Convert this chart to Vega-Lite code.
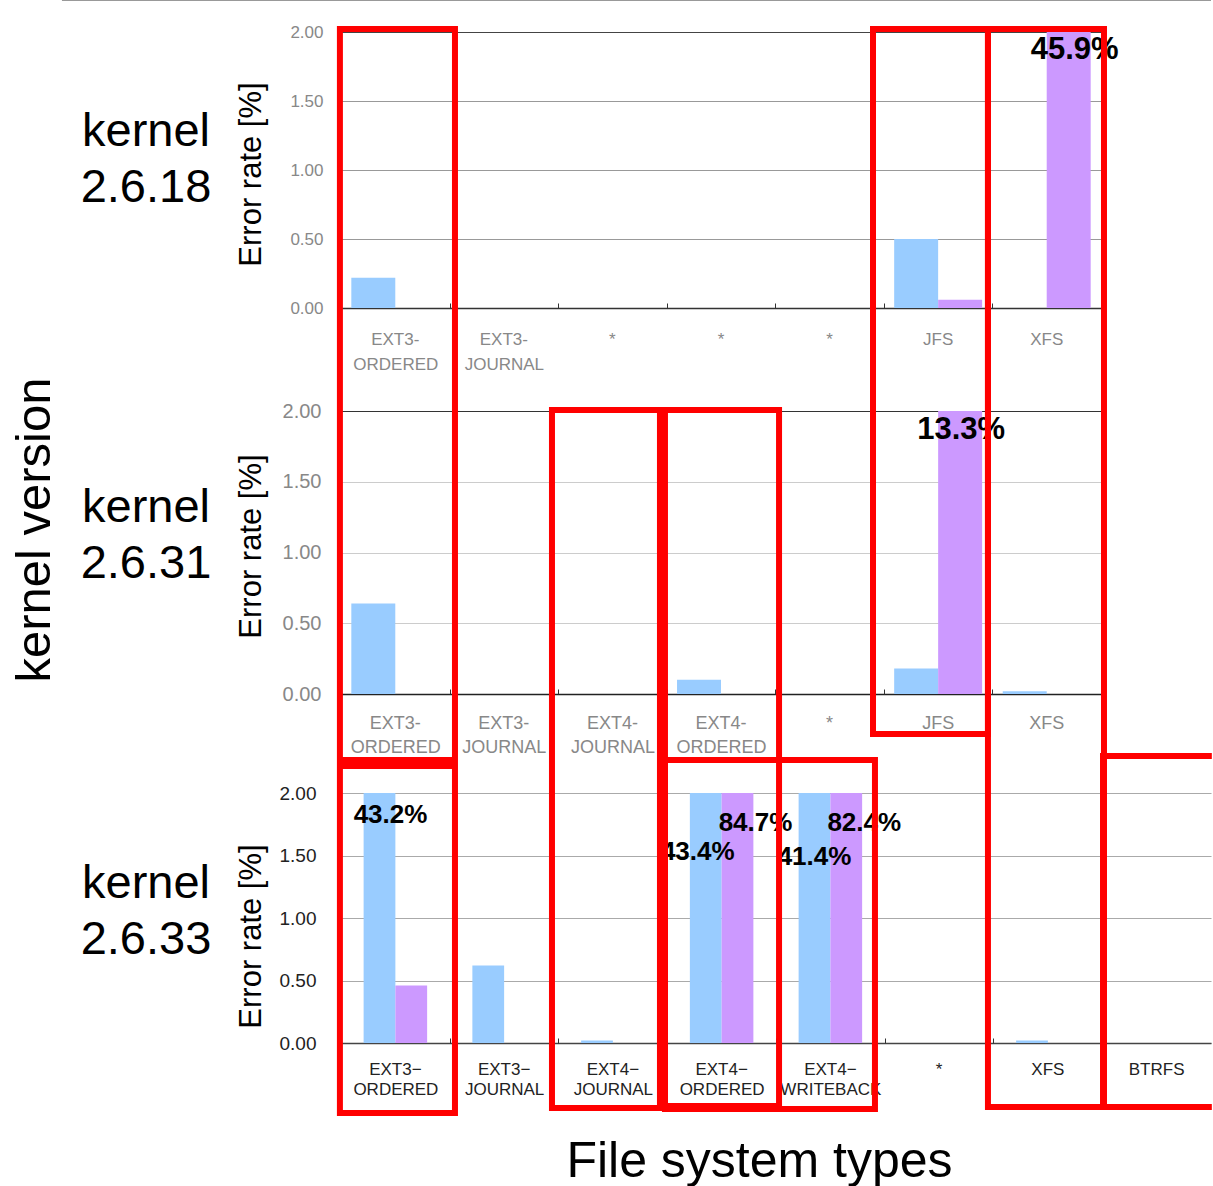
{
  "$schema": "https://vega.github.io/schema/vega-lite/v6.json",
  "autosize": "none",
  "width": 870,
  "height": 1011,
  "padding": {"left": 341, "top": 32, "right": 2, "bottom": 143},
  "datasets": {
    "bars": [
      {"kernel": "2.6.18", "fs": "EXT3-ORDERED", "series": "series 1", "value": 0.22},
      {"kernel": "2.6.18", "fs": "EXT3-ORDERED", "series": "series 2", "value": 0},
      {"kernel": "2.6.18", "fs": "EXT3-JOURNAL", "series": "series 1", "value": 0},
      {"kernel": "2.6.18", "fs": "EXT3-JOURNAL", "series": "series 2", "value": 0},
      {"kernel": "2.6.18", "fs": "JFS", "series": "series 1", "value": 0.5},
      {"kernel": "2.6.18", "fs": "JFS", "series": "series 2", "value": 0.06},
      {"kernel": "2.6.18", "fs": "XFS", "series": "series 1", "value": 0},
      {"kernel": "2.6.18", "fs": "XFS", "series": "series 2", "value": 45.9},
      {"kernel": "2.6.31", "fs": "EXT3-ORDERED", "series": "series 1", "value": 0.64},
      {"kernel": "2.6.31", "fs": "EXT3-ORDERED", "series": "series 2", "value": 0},
      {"kernel": "2.6.31", "fs": "EXT3-JOURNAL", "series": "series 1", "value": 0},
      {"kernel": "2.6.31", "fs": "EXT3-JOURNAL", "series": "series 2", "value": 0},
      {"kernel": "2.6.31", "fs": "EXT4-JOURNAL", "series": "series 1", "value": 0},
      {"kernel": "2.6.31", "fs": "EXT4-JOURNAL", "series": "series 2", "value": 0},
      {"kernel": "2.6.31", "fs": "EXT4-ORDERED", "series": "series 1", "value": 0.1},
      {"kernel": "2.6.31", "fs": "EXT4-ORDERED", "series": "series 2", "value": 0},
      {"kernel": "2.6.31", "fs": "JFS", "series": "series 1", "value": 0.18},
      {"kernel": "2.6.31", "fs": "JFS", "series": "series 2", "value": 13.3},
      {"kernel": "2.6.31", "fs": "XFS", "series": "series 1", "value": 0.02},
      {"kernel": "2.6.31", "fs": "XFS", "series": "series 2", "value": 0},
      {"kernel": "2.6.33", "fs": "EXT3-ORDERED", "series": "series 1", "value": 43.2},
      {"kernel": "2.6.33", "fs": "EXT3-ORDERED", "series": "series 2", "value": 0.46},
      {"kernel": "2.6.33", "fs": "EXT3-JOURNAL", "series": "series 1", "value": 0.62},
      {"kernel": "2.6.33", "fs": "EXT3-JOURNAL", "series": "series 2", "value": 0},
      {"kernel": "2.6.33", "fs": "EXT4-JOURNAL", "series": "series 1", "value": 0.02},
      {"kernel": "2.6.33", "fs": "EXT4-JOURNAL", "series": "series 2", "value": 0},
      {"kernel": "2.6.33", "fs": "EXT4-ORDERED", "series": "series 1", "value": 43.4},
      {"kernel": "2.6.33", "fs": "EXT4-ORDERED", "series": "series 2", "value": 84.7},
      {"kernel": "2.6.33", "fs": "EXT4-WRITEBACK", "series": "series 1", "value": 41.4},
      {"kernel": "2.6.33", "fs": "EXT4-WRITEBACK", "series": "series 2", "value": 82.4},
      {"kernel": "2.6.33", "fs": "XFS", "series": "series 1", "value": 0.02},
      {"kernel": "2.6.33", "fs": "XFS", "series": "series 2", "value": 0},
      {"kernel": "2.6.33", "fs": "BTRFS", "series": "series 1", "value": 0},
      {"kernel": "2.6.33", "fs": "BTRFS", "series": "series 2", "value": 0}
    ],
    "rowlabels": [
      {"kernel": "2.6.18", "x": -1.793, "y": 7.064},
      {"kernel": "2.6.31", "x": -1.793, "y": 4.056},
      {"kernel": "2.6.33", "x": -1.793, "y": 1.048}
    ],
    "axislabel": [
      {"label": "kernel version", "x": -2.814, "y": 4.104}
    ],
    "boxes": [
      {"box": "A", "x0": -0.01, "x1": 1.048, "y0": 8.112, "y1": 2.264},
      {"box": "B", "x0": -0.01, "x1": 1.048, "y0": 2.216, "y1": -0.56},
      {"box": "C", "x0": 1.94, "x1": 2.933, "y0": 5.064, "y1": -0.52},
      {"box": "D", "x0": 2.979, "x1": 4.028, "y0": 5.064, "y1": -0.504},
      {"box": "E", "x0": 2.979, "x1": 4.91, "y0": 2.264, "y1": -0.528},
      {"box": "F", "x0": 4.892, "x1": 5.949, "y0": 8.112, "y1": 2.472},
      {"box": "G", "x0": 5.949, "x1": 7.016, "y0": 8.112, "y1": -0.512}
    ],
    "openbox": [
      {"edge": "top", "x0": 7.007, "x1": 7.98, "y0": 2.296, "y1": 2.296},
      {"edge": "bottom", "x0": 7.007, "x1": 7.98, "y0": -0.512, "y1": -0.512},
      {"edge": "left", "x0": 7.007, "x1": 7.007, "y0": 2.296, "y1": -0.512}
    ],
    "topline": [
      {"x0": -2.566, "x1": 8.0, "y0": 8.344, "y1": 8.344}
    ]
  },
  "resolve": {"scale": {"x": "independent", "y": "independent", "xOffset": "independent"}},
  "layer": [
    {
      "data": {"name": "bars"},
      "transform": [{"filter": "datum.kernel == '2.6.18'"}],
      "encoding": {
        "x": {"field": "fs", "type": "nominal", "sort": null,
          "scale": {"domain": ["EXT3-ORDERED", "EXT3-JOURNAL", "*1", "*2", "*3", "JFS", "XFS"], "range": [0, 760], "paddingInner": 0.19, "paddingOuter": 0.095},
          "axis": {"orient": "bottom", "offset": -735, "title": null,
            "labelExpr": "!isString(datum.value) ? '' : indexof(datum.value, '*') == 0 ? '*' : indexof(datum.value, '-') > 0 ? slice(datum.value, 0, indexof(datum.value, '-') + 1) : datum.value",
            "labelAngle": 0, "labelFontSize": 17, "labelColor": "#888", "labelPadding": 23, "labelOverlap": false,
            "ticks": false, "domainColor": "#333", "domainWidth": 1.5, "grid": false}},
        "xOffset": {"field": "series", "type": "nominal", "scale": {"domain": ["series 1", "series 2"]}},
        "y": {"field": "value", "type": "quantitative",
          "scale": {"domain": [0, 2], "range": [276, 0], "clamp": true, "nice": false},
          "axis": {"orient": "left", "values": [0, 0.5, 1, 1.5, 2], "format": ".2f",
            "title": "Error rate [%]", "titleFontSize": 31, "titleFontWeight": "normal", "titleColor": "#000", "titleX": -90, "titleY": 142, "titleAngle": -90, "titleAlign": "center", "titleBaseline": "middle",
            "labelFontSize": 17, "labelColor": "#888", "labelPadding": 18, "ticks": false,
            "grid": true, "gridColor": {"condition": {"test": "datum.value === 2", "value": "#444"}, "value": "#999"},
            "domain": true, "domainColor": "#444"}}
      },
      "layer": [
        {"mark": {"type": "bar"},
          "encoding": {"color": {"field": "series", "type": "nominal", "scale": {"domain": ["series 1", "series 2"], "range": ["#99ccff", "#cc99ff"]}, "legend": null}}},
        {"transform": [{"filter": "datum.value > 2"}, {"calculate": "format(datum.value, '.1f') + '%'", "as": "label"}],
          "mark": {"type": "text", "fontSize": 31, "fontWeight": "bold", "color": "#000", "baseline": "middle", "dx": 6, "dy": 18},
          "encoding": {"text": {"field": "label"}}}
      ]
    },
    {
      "data": {"name": "bars"},
      "transform": [{"filter": "datum.kernel == '2.6.18'"}],
      "mark": {"type": "point", "opacity": 0},
      "encoding": {
        "x": {"field": "fs", "type": "nominal", "sort": null,
          "scale": {"domain": ["EXT3-ORDERED", "EXT3-JOURNAL", "*1", "*2", "*3", "JFS", "XFS"], "range": [0, 760], "paddingInner": 0.19, "paddingOuter": 0.095},
          "axis": {"orient": "bottom", "offset": -735, "title": null,
            "labelExpr": "!isString(datum.value) ? '' : indexof(datum.value, '-') > 0 ? slice(datum.value, indexof(datum.value, '-') + 1) : ''",
            "labelAngle": 0, "labelFontSize": 17, "labelColor": "#888", "labelPadding": 48, "labelOverlap": false,
            "ticks": false, "domain": false, "grid": false}}
      }
    },
    {
      "data": {"name": "bars"},
      "transform": [{"filter": "datum.kernel == '2.6.18'"}],
      "mark": {"type": "point", "opacity": 0},
      "encoding": {
        "x": {"field": "fs", "type": "nominal", "sort": null,
          "scale": {"domain": ["EXT3-ORDERED", "EXT3-JOURNAL", "*1", "*2", "*3", "JFS", "XFS"], "range": [0, 760], "paddingInner": 0.19, "paddingOuter": 0.095},
          "axis": {"orient": "bottom", "offset": -735, "title": null, "labels": false, "domain": false, "grid": false,
            "ticks": true, "tickSize": -5, "tickOffset": -54.3, "tickColor": "#333"}}
      }
    },
    {
      "data": {"name": "bars"},
      "transform": [{"filter": "datum.kernel == '2.6.31'"}],
      "encoding": {
        "x": {"field": "fs", "type": "nominal", "sort": null,
          "scale": {"domain": ["EXT3-ORDERED", "EXT3-JOURNAL", "EXT4-JOURNAL", "EXT4-ORDERED", "*1", "JFS", "XFS"], "range": [0, 760], "paddingInner": 0.19, "paddingOuter": 0.095},
          "axis": {"orient": "bottom", "offset": -349, "title": null,
            "labelExpr": "!isString(datum.value) ? '' : indexof(datum.value, '*') == 0 ? '*' : indexof(datum.value, '-') > 0 ? slice(datum.value, 0, indexof(datum.value, '-') + 1) : datum.value",
            "labelAngle": 0, "labelFontSize": 18, "labelColor": "#888", "labelPadding": 20, "labelOverlap": false,
            "ticks": false, "domainColor": "#222", "domainWidth": 1.5, "grid": false}},
        "xOffset": {"field": "series", "type": "nominal", "scale": {"domain": ["series 1", "series 2"]}},
        "y": {"field": "value", "type": "quantitative",
          "scale": {"domain": [0, 2], "range": [662, 379], "clamp": true, "nice": false},
          "axis": {"orient": "left", "values": [0, 0.5, 1, 1.5, 2], "format": ".2f",
            "title": "Error rate [%]", "titleFontSize": 31, "titleFontWeight": "normal", "titleColor": "#000", "titleX": -90, "titleY": 514, "titleAngle": -90, "titleAlign": "center", "titleBaseline": "middle",
            "labelFontSize": 20, "labelColor": "#888", "labelPadding": 20, "ticks": false,
            "grid": true, "gridColor": {"condition": {"test": "datum.value === 2", "value": "#333"}, "value": "#ccc"},
            "domain": true, "domainColor": "#222"}}
      },
      "layer": [
        {"mark": {"type": "bar"},
          "encoding": {"color": {"field": "series", "type": "nominal", "scale": {"domain": ["series 1", "series 2"], "range": ["#99ccff", "#cc99ff"]}, "legend": null}}},
        {"transform": [{"filter": "datum.value > 2"}, {"calculate": "format(datum.value, '.1f') + '%'", "as": "label"}],
          "mark": {"type": "text", "fontSize": 31, "fontWeight": "bold", "color": "#000", "baseline": "middle", "dx": 1, "dy": 19},
          "encoding": {"text": {"field": "label"}}}
      ]
    },
    {
      "data": {"name": "bars"},
      "transform": [{"filter": "datum.kernel == '2.6.31'"}],
      "mark": {"type": "point", "opacity": 0},
      "encoding": {
        "x": {"field": "fs", "type": "nominal", "sort": null,
          "scale": {"domain": ["EXT3-ORDERED", "EXT3-JOURNAL", "EXT4-JOURNAL", "EXT4-ORDERED", "*1", "JFS", "XFS"], "range": [0, 760], "paddingInner": 0.19, "paddingOuter": 0.095},
          "axis": {"orient": "bottom", "offset": -349, "title": null,
            "labelExpr": "!isString(datum.value) ? '' : indexof(datum.value, '-') > 0 ? slice(datum.value, indexof(datum.value, '-') + 1) : ''",
            "labelAngle": 0, "labelFontSize": 18, "labelColor": "#888", "labelPadding": 44, "labelOverlap": false,
            "ticks": false, "domain": false, "grid": false}}
      }
    },
    {
      "data": {"name": "bars"},
      "transform": [{"filter": "datum.kernel == '2.6.31'"}],
      "mark": {"type": "point", "opacity": 0},
      "encoding": {
        "x": {"field": "fs", "type": "nominal", "sort": null,
          "scale": {"domain": ["EXT3-ORDERED", "EXT3-JOURNAL", "EXT4-JOURNAL", "EXT4-ORDERED", "*1", "JFS", "XFS"], "range": [0, 760], "paddingInner": 0.19, "paddingOuter": 0.095},
          "axis": {"orient": "bottom", "offset": -349, "title": null, "labels": false, "domain": false, "grid": false,
            "ticks": true, "tickSize": -5, "tickOffset": -54.3, "tickColor": "#333"}}
      }
    },
    {
      "data": {"name": "bars"},
      "transform": [{"filter": "datum.kernel == '2.6.33'"}],
      "encoding": {
        "x": {"field": "fs", "type": "nominal", "sort": null,
          "scale": {"domain": ["EXT3-ORDERED", "EXT3-JOURNAL", "EXT4-JOURNAL", "EXT4-ORDERED", "EXT4-WRITEBACK", "*1", "XFS", "BTRFS"], "range": [0, 870], "paddingInner": 0.416, "paddingOuter": 0.208},
          "axis": {"orient": "bottom", "offset": 0,
            "title": "File system types", "titleFontSize": 50, "titleFontWeight": "normal", "titleColor": "#000", "titleX": 418, "titleY": 133, "titleAlign": "center", "titleBaseline": "alphabetic",
            "labelExpr": "!isString(datum.value) ? '' : indexof(datum.value, '*') == 0 ? '*' : indexof(datum.value, '-') > 0 ? slice(datum.value, 0, indexof(datum.value, '-')) + '−' : datum.value",
            "labelAngle": 0, "labelFontSize": 17, "labelColor": "#222", "labelPadding": 18, "labelOverlap": false,
            "ticks": false, "domainColor": "#444", "domainWidth": 1.5, "grid": false}},
        "xOffset": {"field": "series", "type": "nominal", "scale": {"domain": ["series 1", "series 2"]}},
        "y": {"field": "value", "type": "quantitative",
          "scale": {"domain": [0, 2], "range": [1011, 761], "clamp": true, "nice": false},
          "axis": {"orient": "left", "values": [0, 0.5, 1, 1.5, 2], "format": ".2f",
            "title": "Error rate [%]", "titleFontSize": 31, "titleFontWeight": "normal", "titleColor": "#000", "titleX": -90, "titleY": 904, "titleAngle": -90, "titleAlign": "center", "titleBaseline": "middle",
            "labelFontSize": 19, "labelColor": "#222", "labelPadding": 25, "ticks": false,
            "grid": true, "gridColor": "#aaa",
            "domain": true, "domainColor": "#444"}}
      },
      "layer": [
        {"mark": {"type": "bar"},
          "encoding": {"color": {"field": "series", "type": "nominal", "scale": {"domain": ["series 1", "series 2"], "range": ["#99ccff", "#cc99ff"]}, "legend": null}}},
        {"transform": [{"filter": "datum.value > 2 && datum.series == 'series 2'"}, {"calculate": "format(datum.value, '.1f') + '%'", "as": "label"}],
          "mark": {"type": "text", "fontSize": 26, "fontWeight": "bold", "color": "#000", "baseline": "middle", "dx": 18, "dy": 30},
          "encoding": {"text": {"field": "label"}}},
        {"transform": [{"filter": "datum.value > 2 && datum.series == 'series 1' && datum.fs == 'EXT3-ORDERED'"}, {"calculate": "format(datum.value, '.1f') + '%'", "as": "label"}],
          "mark": {"type": "text", "fontSize": 26, "fontWeight": "bold", "color": "#000", "baseline": "middle", "dx": 11, "dy": 22},
          "encoding": {"text": {"field": "label"}}},
        {"transform": [{"filter": "datum.value > 2 && datum.series == 'series 1' && datum.fs == 'EXT4-ORDERED'"}, {"calculate": "format(datum.value, '.1f') + '%'", "as": "label"}],
          "mark": {"type": "text", "fontSize": 26, "fontWeight": "bold", "color": "#000", "baseline": "middle", "dx": -8, "dy": 59},
          "encoding": {"text": {"field": "label"}}},
        {"transform": [{"filter": "datum.value > 2 && datum.series == 'series 1' && datum.fs == 'EXT4-WRITEBACK'"}, {"calculate": "format(datum.value, '.1f') + '%'", "as": "label"}],
          "mark": {"type": "text", "fontSize": 26, "fontWeight": "bold", "color": "#000", "baseline": "middle", "dx": 0, "dy": 64},
          "encoding": {"text": {"field": "label"}}}
      ]
    },
    {
      "data": {"name": "bars"},
      "transform": [{"filter": "datum.kernel == '2.6.33'"}],
      "mark": {"type": "point", "opacity": 0},
      "encoding": {
        "x": {"field": "fs", "type": "nominal", "sort": null,
          "scale": {"domain": ["EXT3-ORDERED", "EXT3-JOURNAL", "EXT4-JOURNAL", "EXT4-ORDERED", "EXT4-WRITEBACK", "*1", "XFS", "BTRFS"], "range": [0, 870], "paddingInner": 0.416, "paddingOuter": 0.208},
          "axis": {"orient": "bottom", "offset": 0, "title": null,
            "labelExpr": "!isString(datum.value) ? '' : indexof(datum.value, '-') > 0 ? slice(datum.value, indexof(datum.value, '-') + 1) : ''",
            "labelAngle": 0, "labelFontSize": 17, "labelColor": "#222", "labelPadding": 38, "labelOverlap": false,
            "ticks": false, "domain": false, "grid": false}}
      }
    },
    {
      "data": {"name": "bars"},
      "transform": [{"filter": "datum.kernel == '2.6.33'"}],
      "mark": {"type": "point", "opacity": 0},
      "encoding": {
        "x": {"field": "fs", "type": "nominal", "sort": null,
          "scale": {"domain": ["EXT3-ORDERED", "EXT3-JOURNAL", "EXT4-JOURNAL", "EXT4-ORDERED", "EXT4-WRITEBACK", "*1", "XFS", "BTRFS"], "range": [0, 870], "paddingInner": 0.416, "paddingOuter": 0.208},
          "axis": {"orient": "bottom", "offset": 0, "title": null, "labels": false, "domain": false, "grid": false,
            "ticks": true, "tickSize": -5, "tickOffset": -54.4, "tickColor": "#333"}}
      }
    },
    {
      "data": {"name": "rowlabels"},
      "mark": {"type": "text", "fontSize": 47, "color": "#000", "align": "center", "baseline": "middle", "dy": -28, "text": "kernel"},
      "encoding": {
        "x": {"field": "x", "type": "quantitative", "scale": {"domain": [0, 8], "nice": false, "zero": false}, "axis": null},
        "y": {"field": "y", "type": "quantitative", "scale": {"domain": [0, 2], "range": [1011, 761], "nice": false, "zero": false}, "axis": null}
      }
    },
    {
      "data": {"name": "rowlabels"},
      "mark": {"type": "text", "fontSize": 47, "color": "#000", "align": "center", "baseline": "middle", "dy": 28},
      "encoding": {
        "x": {"field": "x", "type": "quantitative", "scale": {"domain": [0, 8], "nice": false, "zero": false}, "axis": null},
        "y": {"field": "y", "type": "quantitative", "scale": {"domain": [0, 2], "range": [1011, 761], "nice": false, "zero": false}, "axis": null},
        "text": {"field": "kernel"}
      }
    },
    {
      "data": {"name": "axislabel"},
      "mark": {"type": "text", "fontSize": 49, "color": "#000", "align": "center", "baseline": "middle", "angle": 270},
      "encoding": {
        "x": {"field": "x", "type": "quantitative", "scale": {"domain": [0, 8], "nice": false, "zero": false}, "axis": null},
        "y": {"field": "y", "type": "quantitative", "scale": {"domain": [0, 2], "range": [1011, 761], "nice": false, "zero": false}, "axis": null},
        "text": {"field": "label"}
      }
    },
    {
      "data": {"name": "topline"},
      "mark": {"type": "rule", "color": "#999", "strokeWidth": 2},
      "encoding": {
        "x": {"field": "x0", "type": "quantitative", "scale": {"domain": [0, 8], "nice": false, "zero": false}, "axis": null},
        "x2": {"field": "x1"},
        "y": {"field": "y0", "type": "quantitative", "scale": {"domain": [0, 2], "range": [1011, 761], "nice": false, "zero": false}, "axis": null},
        "y2": {"field": "y1"}
      }
    },
    {
      "data": {"name": "boxes"},
      "mark": {"type": "rect", "fill": "#ffffff", "fillOpacity": 0, "stroke": "#ff0000", "strokeWidth": 6, "strokeJoin": "miter"},
      "encoding": {
        "x": {"field": "x0", "type": "quantitative", "scale": {"domain": [0, 8], "nice": false, "zero": false}, "axis": null},
        "x2": {"field": "x1"},
        "y": {"field": "y0", "type": "quantitative", "scale": {"domain": [0, 2], "range": [1011, 761], "nice": false, "zero": false}, "axis": null},
        "y2": {"field": "y1"}
      }
    },
    {
      "data": {"name": "openbox"},
      "mark": {"type": "rule", "color": "#ff0000", "strokeWidth": 6, "strokeCap": "square"},
      "encoding": {
        "x": {"field": "x0", "type": "quantitative", "scale": {"domain": [0, 8], "nice": false, "zero": false}, "axis": null},
        "x2": {"field": "x1"},
        "y": {"field": "y0", "type": "quantitative", "scale": {"domain": [0, 2], "range": [1011, 761], "nice": false, "zero": false}, "axis": null},
        "y2": {"field": "y1"}
      }
    }
  ],
  "config": {
    "font": "Liberation Sans",
    "view": {"stroke": null},
    "axis": {"labelFont": "Liberation Sans", "titleFont": "Liberation Sans"}
  }
}
